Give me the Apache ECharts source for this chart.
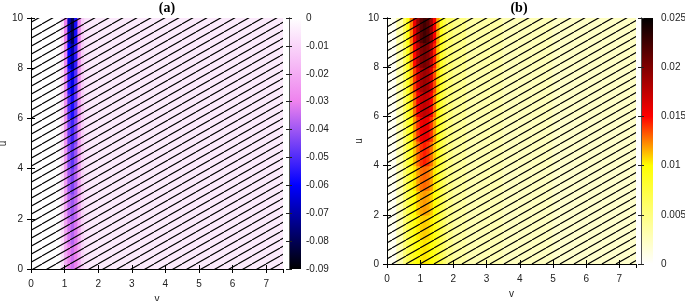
<!DOCTYPE html>
<html>
<head>
<meta charset="utf-8">
<script src="https://cdn.jsdelivr.net/npm/echarts@6/dist/echarts.min.js"></script>
<style>
  html, body { margin: 0; padding: 0; background: #fff; }
  #chart { width: 685px; height: 301px; }
</style>
</head>
<body>
<div id="chart"></div>
<script>
// cell edges of the sampled field (v across, u up)
var vEdges = [0, 0.3, 0.5, 0.6, 0.7, 0.8, 0.9, 1.0, 1.1, 1.2, 1.3, 1.4, 1.5, 1.6, 1.7, 1.8, 2.0, 2.4, 3.5, 5.0, 7.5];
var uEdges = [0, 1, 2, 3, 4, 5, 6, 7, 8, 9, 10];

// panel (a), rows from u=0..1 up to u=9..10
var fieldA = [
  [0, 0, 0, 0, 0, -0.001, -0.008, -0.020, -0.030, -0.034, -0.030, -0.020, -0.011, -0.007, -0.006, -0.005, -0.005, -0.005, -0.005, -0.005],
  [0, 0, 0, 0, 0, -0.001, -0.008, -0.021, -0.033, -0.037, -0.032, -0.021, -0.011, -0.007, -0.006, -0.005, -0.005, -0.005, -0.005, -0.005],
  [0, 0, 0, 0, 0, -0.001, -0.008, -0.022, -0.036, -0.040, -0.035, -0.022, -0.011, -0.007, -0.006, -0.005, -0.005, -0.005, -0.005, -0.005],
  [0, 0, 0, 0, 0, -0.001, -0.008, -0.023, -0.039, -0.044, -0.037, -0.023, -0.011, -0.007, -0.006, -0.005, -0.005, -0.005, -0.005, -0.005],
  [0, 0, 0, 0, 0, -0.001, -0.008, -0.024, -0.042, -0.048, -0.040, -0.024, -0.011, -0.007, -0.006, -0.005, -0.005, -0.005, -0.005, -0.005],
  [0, 0, 0, 0, 0, -0.001, -0.008, -0.025, -0.045, -0.052, -0.043, -0.025, -0.012, -0.007, -0.006, -0.005, -0.005, -0.005, -0.005, -0.005],
  [0, 0, 0, 0, 0, -0.001, -0.008, -0.026, -0.049, -0.057, -0.046, -0.026, -0.012, -0.007, -0.006, -0.005, -0.005, -0.005, -0.005, -0.005],
  [0, 0, 0, 0, 0, -0.001, -0.008, -0.027, -0.054, -0.063, -0.049, -0.027, -0.012, -0.007, -0.006, -0.005, -0.005, -0.005, -0.005, -0.005],
  [0, 0, 0, 0, 0, -0.001, -0.008, -0.028, -0.060, -0.070, -0.053, -0.028, -0.012, -0.007, -0.006, -0.005, -0.005, -0.005, -0.005, -0.005],
  [0, 0, 0, 0, 0, 0, -0.008, -0.030, -0.068, -0.080, -0.057, -0.030, -0.012, -0.007, -0.006, -0.005, -0.005, -0.005, -0.005, -0.005]
];

// panel (b)
var fieldB = [
  [0.0005, 0.0030, 0.0052, 0.0068, 0.0080, 0.0090, 0.0098, 0.0103, 0.0105, 0.0103, 0.0098, 0.0090, 0.0080, 0.0068, 0.0057, 0.0046, 0.0036, 0.0030, 0.0025, 0.0020],
  [0.0005, 0.0030, 0.0053, 0.0070, 0.0083, 0.0094, 0.0103, 0.0108, 0.0110, 0.0108, 0.0103, 0.0094, 0.0082, 0.0069, 0.0058, 0.0046, 0.0036, 0.0030, 0.0025, 0.0020],
  [0.0005, 0.0030, 0.0054, 0.0072, 0.0086, 0.0099, 0.0110, 0.0117, 0.0120, 0.0117, 0.0110, 0.0099, 0.0085, 0.0071, 0.0059, 0.0047, 0.0037, 0.0030, 0.0025, 0.0020],
  [0.0005, 0.0030, 0.0055, 0.0074, 0.0090, 0.0105, 0.0118, 0.0127, 0.0130, 0.0127, 0.0118, 0.0104, 0.0088, 0.0073, 0.0060, 0.0048, 0.0038, 0.0031, 0.0025, 0.0020],
  [0.0005, 0.0031, 0.0056, 0.0077, 0.0095, 0.0112, 0.0128, 0.0140, 0.0145, 0.0140, 0.0128, 0.0111, 0.0092, 0.0075, 0.0062, 0.0049, 0.0039, 0.0031, 0.0026, 0.0021],
  [0.0005, 0.0031, 0.0057, 0.0080, 0.0100, 0.0120, 0.0140, 0.0154, 0.0160, 0.0155, 0.0140, 0.0119, 0.0097, 0.0078, 0.0064, 0.0051, 0.0040, 0.0032, 0.0026, 0.0021],
  [0.0005, 0.0032, 0.0059, 0.0083, 0.0106, 0.0129, 0.0153, 0.0169, 0.0175, 0.0170, 0.0152, 0.0127, 0.0102, 0.0081, 0.0066, 0.0053, 0.0042, 0.0033, 0.0027, 0.0022],
  [0.0005, 0.0033, 0.0060, 0.0086, 0.0112, 0.0138, 0.0165, 0.0183, 0.0190, 0.0184, 0.0164, 0.0135, 0.0107, 0.0084, 0.0068, 0.0055, 0.0044, 0.0034, 0.0027, 0.0022],
  [0.0005, 0.0034, 0.0062, 0.0090, 0.0118, 0.0148, 0.0178, 0.0198, 0.0205, 0.0198, 0.0176, 0.0144, 0.0112, 0.0087, 0.0071, 0.0057, 0.0046, 0.0035, 0.0028, 0.0023],
  [0.0005, 0.0035, 0.0064, 0.0094, 0.0125, 0.0158, 0.0192, 0.0215, 0.0225, 0.0215, 0.0190, 0.0154, 0.0118, 0.0091, 0.0074, 0.0059, 0.0048, 0.0036, 0.0028, 0.0023]
];

// colour ranges of the two colour bars
var rangeA = [-0.09, 0];
var rangeB = [0, 0.025];
var stepA = 0.01;
var stepB = 0.005;

// palettes, low value first, evenly spaced
var paletteA = ['#000000', '#000080', '#0000ff', '#7741f6', '#ee82ee', '#f7c1f7', '#ffffff'];
var paletteB = ['#ffffff', '#ffff80', '#ffff00', '#ff0000', '#800000', '#000000'];

function toCells(field) {
  var out = [];
  for (var r = 0; r < field.length; r++) {
    for (var c = 0; c < field[r].length; c++) {
      out.push([vEdges[c], vEdges[c + 1], uEdges[r], uEdges[r + 1], field[r][c]]);
    }
  }
  return out;
}

function cellItem(params, api) {
  var p0 = api.coord([api.value(0), api.value(3)]);
  var p1 = api.coord([api.value(1), api.value(2)]);
  return {
    type: 'rect',
    shape: { x: p0[0] - 0.6, y: p0[1] - 0.6, width: p1[0] - p0[0] + 1.2, height: p1[1] - p0[1] + 1.2 },
    style: { fill: api.visual('color') }
  };
}

// diagonal hatch tile
function hatchTile() {
  var w = 14, h = 8;
  var c = document.createElement('canvas');
  c.width = w; c.height = h;
  var g = c.getContext('2d');
  g.strokeStyle = '#000';
  g.lineWidth = 1.1;
  for (var k = -1; k <= 1; k++) {
    g.beginPath();
    g.moveTo(k * w, h);
    g.lineTo(k * w + w, 0);
    g.stroke();
  }
  return c;
}
var hatch = { image: hatchTile(), repeat: 'repeat' };

function hatchItem(params, api) {
  var p0 = api.coord([api.value(0), api.value(3)]);
  var p1 = api.coord([api.value(1), api.value(2)]);
  return {
    type: 'rect',
    shape: { x: p0[0], y: p0[1], width: p1[0] - p0[0], height: p1[1] - p0[1] },
    style: { fill: hatch }
  };
}

function barItem(palette) {
  return function (params, api) {
    var p0 = api.coord([0, api.value(1)]);
    var p1 = api.coord([1, api.value(0)]);
    var stops = [];
    for (var i = palette.length - 1; i >= 0; i--) {
      stops.push({ offset: 1 - i / (palette.length - 1), color: palette[i] });
    }
    return {
      type: 'rect',
      shape: { x: p0[0], y: p0[1], width: p1[0] - p0[0], height: p1[1] - p0[1] },
      style: { fill: new echarts.graphic.LinearGradient(0, 0, 0, 1, stops) }
    };
  };
}

var labelStyle = { color: '#222', fontSize: 10, fontFamily: 'Liberation Sans' };
var tick = { show: true, inside: true, length: 4, lineStyle: { color: '#000', width: 1 } };
var frame = { show: true, lineStyle: { color: '#000', width: 1 } };

function xAx(grid, pos, labels, gap) {
  return {
    type: 'value', gridIndex: grid, position: pos, min: 0, max: 7.5, interval: 1, z: 10,
    name: labels ? 'v' : '', nameLocation: 'middle', nameGap: gap, nameTextStyle: labelStyle,
    axisLine: frame, axisTick: tick, splitLine: { show: false },
    axisLabel: { show: labels, margin: 10, showMaxLabel: false, textStyle: labelStyle }
  };
}
function yAx(grid, pos, labels, gap) {
  return {
    type: 'value', gridIndex: grid, position: pos, min: 0, max: 10, interval: 2, z: 10,
    name: labels ? 'u' : '', nameLocation: 'middle', nameGap: gap, nameTextStyle: labelStyle,
    axisLine: frame, axisTick: tick, splitLine: { show: false },
    axisLabel: { show: labels, margin: 8, textStyle: labelStyle }
  };
}
function barX(grid) {
  return { type: 'value', gridIndex: grid, min: 0, max: 1, show: false };
}
function barY(grid, pos, range, step, labels, margin) {
  return {
    type: 'value', gridIndex: grid, position: pos, min: range[0], max: range[1], interval: step, z: 10,
    axisLine: { show: true, lineStyle: { color: '#555', width: 1 } },
    axisTick: { show: true, inside: true, length: 3, lineStyle: { color: '#222', width: 1 } },
    splitLine: { show: false },
    axisLabel: { show: labels, margin: margin, textStyle: labelStyle }
  };
}

var chart = echarts.init(document.getElementById('chart'), null, { renderer: 'canvas' });

var gridBase = { containLabel: false, outerBoundsMode: 'none' };
function grid(l, t, w, h) {
  return Object.assign({ left: l, top: t, width: w, height: h }, gridBase);
}

chart.setOption({
  animation: false,
  backgroundColor: '#fff',
  grid: [
    grid(31, 18, 252, 251),
    grid(387, 18, 249, 246),
    grid(289, 18, 12, 251),
    grid(641, 18, 12, 246)
  ],
  xAxis: [
    xAx(0, 'bottom', true, 20), xAx(0, 'top', false, 0),
    xAx(1, 'bottom', true, 21), xAx(1, 'top', false, 0),
    barX(2), barX(3)
  ],
  yAxis: [
    yAx(0, 'left', true, 17), yAx(0, 'right', false, 0),
    yAx(1, 'left', true, 18), yAx(1, 'right', false, 0),
    barY(2, 'right', rangeA, stepA, true, 5), barY(2, 'left', rangeA, stepA, false, 0),
    barY(3, 'right', rangeB, stepB, true, 8), barY(3, 'left', rangeB, stepB, false, 0)
  ],
  visualMap: [
    { type: 'continuous', show: false, seriesIndex: 0, dimension: 4, min: rangeA[0], max: rangeA[1], inRange: { color: paletteA } },
    { type: 'continuous', show: false, seriesIndex: 2, dimension: 4, min: rangeB[0], max: rangeB[1], inRange: { color: paletteB } }
  ],
  series: [
    { type: 'custom', name: 'a', xAxisIndex: 0, yAxisIndex: 0, clip: true, silent: true,
      encode: { x: [0, 1], y: [2, 3] }, renderItem: cellItem, data: toCells(fieldA) },
    { type: 'custom', name: 'hatch a', xAxisIndex: 0, yAxisIndex: 0, clip: true, silent: true, z: 3,
      encode: { x: [0, 1], y: [2, 3] }, renderItem: hatchItem, data: [[0, 7.5, 0, 10]] },
    { type: 'custom', name: 'b', xAxisIndex: 2, yAxisIndex: 2, clip: true, silent: true,
      encode: { x: [0, 1], y: [2, 3] }, renderItem: cellItem, data: toCells(fieldB) },
    { type: 'custom', name: 'hatch b', xAxisIndex: 2, yAxisIndex: 2, clip: true, silent: true, z: 3,
      encode: { x: [0, 1], y: [2, 3] }, renderItem: hatchItem, data: [[0, 7.5, 0, 10]] },
    { type: 'custom', name: 'bar a', xAxisIndex: 4, yAxisIndex: 4, silent: true,
      encode: { y: [0, 1] }, renderItem: barItem(paletteA), data: [rangeA] },
    { type: 'custom', name: 'bar b', xAxisIndex: 5, yAxisIndex: 6, silent: true,
      encode: { y: [0, 1] }, renderItem: barItem(paletteB), data: [rangeB] }
  ],
  graphic: [
    { type: 'text', x: 167, y: 1, style: { text: '(a)', textAlign: 'center', font: 'bold 14px "Liberation Serif"', fill: '#000' } },
    { type: 'text', x: 519, y: 1, style: { text: '(b)', textAlign: 'center', font: 'bold 14px "Liberation Serif"', fill: '#000' } }
  ]
});
</script>
</body>
</html>
